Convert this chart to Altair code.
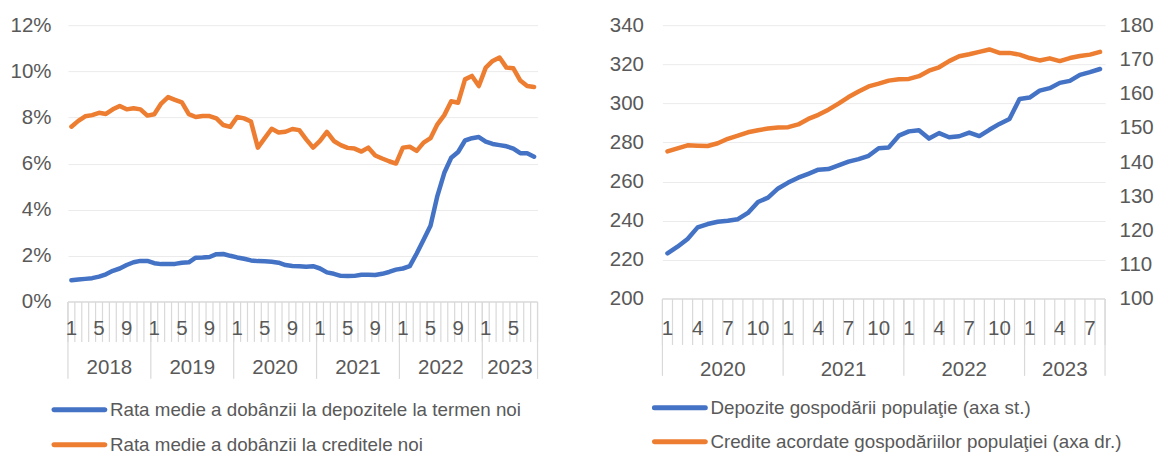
import altair as alt
import pandas as pd

# ---------------- data ----------------
left_start_year = 2018
left_months = [1, 5, 9]
left_names = ["Rata medie a dobânzii la depozitele la termen noi",
              "Rata medie a dobânzii la creditele noi"]
dep_rate = [0.94, 0.97, 1.0, 1.03, 1.1, 1.2, 1.35, 1.45, 1.6, 1.72, 1.78, 1.78,
            1.68, 1.64, 1.64, 1.65, 1.7, 1.72, 1.92, 1.93, 1.95, 2.07, 2.08, 2.0,
            1.93, 1.87, 1.8, 1.77, 1.76, 1.74, 1.7, 1.6, 1.56, 1.55, 1.53, 1.55,
            1.45, 1.28, 1.22, 1.13, 1.12, 1.13, 1.18, 1.18, 1.17, 1.22, 1.3, 1.4,
            1.45, 1.55, 2.1, 2.7, 3.3, 4.6, 5.6, 6.25, 6.5, 7.0, 7.1, 7.15,
            6.95, 6.85, 6.8, 6.75, 6.65, 6.45, 6.45, 6.3]
cred_rate = [7.6, 7.85, 8.05, 8.1, 8.2, 8.15, 8.35, 8.5, 8.35, 8.4, 8.35, 8.08,
             8.14, 8.6, 8.88, 8.76, 8.65, 8.14, 8.02, 8.06, 8.06, 7.96, 7.67, 7.59,
             8.02, 7.96, 7.82, 6.69, 7.1, 7.51, 7.35, 7.38, 7.5, 7.45, 7.05, 6.69,
             6.98, 7.37, 6.98, 6.8, 6.68, 6.65, 6.52, 6.69, 6.35, 6.22, 6.1, 6.0,
             6.69, 6.73, 6.55, 6.91, 7.1, 7.7, 8.1, 8.7, 8.64, 9.65, 9.8, 9.36,
             10.16, 10.45, 10.6, 10.16, 10.13, 9.6, 9.36, 9.32]
left_yticks = [0, 2, 4, 6, 8, 10, 12]

right_start_year = 2020
right_months = [1, 4, 7, 10]
right_names = ["Depozite gospodării populaţie (axa st.)",
               "Credite acordate gospodăriilor populaţiei (axa dr.)"]
deposits = [223.3, 226.7, 230.7, 236.6, 238.3, 239.5, 240.0, 240.8, 244.0, 249.6, 251.8, 256.5,
            259.5, 262.0, 264.0, 266.1, 266.4, 268.3, 270.2, 271.5, 273.2, 277.1, 277.5, 283.5,
            285.7, 286.3, 282.0, 284.8, 282.7, 283.2, 285.1, 283.3, 286.5, 289.5, 292.0, 302.3,
            303.0, 306.5, 307.8, 310.5, 311.5, 314.6, 316.0, 317.6]
credits = [143.1, 144.0, 144.9, 144.8, 144.7, 145.5, 146.8, 147.7, 148.7, 149.3, 149.8, 150.1,
           150.2, 151.0, 152.6, 153.8, 155.3, 157.1, 159.0, 160.6, 162.1, 162.9, 163.8, 164.2,
           164.3, 165.1, 166.7, 167.7, 169.5, 170.9, 171.5, 172.2, 172.9, 171.9, 171.9, 171.4,
           170.4, 169.7, 170.3, 169.5, 170.4, 171.0, 171.4, 172.2]
right_lticks = [200, 220, 240, 260, 280, 300, 320, 340]
right_rticks = [100, 110, 120, 130, 140, 150, 160, 170, 180]

BLUE = "#4472C4"
ORANGE = "#ED7D31"
GREY = "#595959"
LINEGREY = "#d9d9d9"
FONT = "Liberation Sans"
FS = 20.5
LFS = 18.8


def axis_layers(n, start_year, months, W, H, tick_len, year_len, m_y, y_y):
    xs = alt.Scale(domain=[0, n], nice=False, zero=False)
    xq = lambda f: alt.X(f, type="quantitative", scale=xs, axis=None)
    bounds = pd.DataFrame({"b": list(range(n + 1))})
    yb = sorted(set([b for b in range(0, n + 1, 12)] + [n]))
    ybounds = pd.DataFrame({"b": yb})
    mrows = []
    for k in range((n + 11) // 12):
        for m in months:
            p = 12 * k + (m - 1)
            if p < n:
                mrows.append({"pos": p + 0.5, "lab": str(m)})
    mdf = pd.DataFrame(mrows)
    yrows = []
    for k in range((n + 11) // 12):
        s = 12 * k
        e = min(12 * k + 12, n)
        yrows.append({"pos": (s + e) / 2, "lab": str(start_year + k)})
    ydf = pd.DataFrame(yrows)
    base_line = alt.Chart(pd.DataFrame({"a": [0], "b": [n]})).mark_rule(
        color=LINEGREY, strokeWidth=1.2).encode(x=xq("a"), x2="b", y=alt.value(H))
    ticks = alt.Chart(bounds).mark_rule(color=LINEGREY, strokeWidth=1.2).encode(
        x=xq("b"), y=alt.value(H), y2=alt.value(H + tick_len))
    yticks = alt.Chart(ybounds).mark_rule(color=LINEGREY, strokeWidth=1.2).encode(
        x=xq("b"), y=alt.value(H), y2=alt.value(H + year_len))
    mtext = alt.Chart(mdf).mark_text(font=FONT, fontSize=FS, color=GREY,
                                     align="center", baseline="middle").encode(
        x=xq("pos"), y=alt.value(H + m_y), text="lab:N")
    ytext = alt.Chart(ydf).mark_text(font=FONT, fontSize=FS, color=GREY,
                                     align="center", baseline="middle").encode(
        x=xq("pos"), y=alt.value(H + y_y), text="lab:N")
    return [base_line, ticks, yticks, mtext, ytext]


def legend_layers(names, colors, x1, x2, ys):
    out = []
    for name, col, yy in zip(names, colors, ys):
        d = pd.DataFrame({"lab": [name]})
        out.append(alt.Chart(d).mark_rule(strokeWidth=5, strokeCap="round", color=col).encode(
            x=alt.value(x1), x2=alt.value(x2), y=alt.value(yy)))
        out.append(alt.Chart(d).mark_text(font=FONT, fontSize=LFS, color=GREY,
                                          align="left", baseline="middle").encode(
            x=alt.value(x2 + 5), y=alt.value(yy), text="lab:N"))
    return out


# ---------------- left panel ----------------
W1, H1 = 470, 277
n1 = len(dep_rate)
ldf = pd.DataFrame({
    "pos": [i + 0.5 for i in range(n1)] * 2,
    "value": dep_rate + cred_rate,
    "series": [left_names[0]] * n1 + [left_names[1]] * n1,
})
left_lines = alt.Chart(ldf).mark_line(strokeWidth=4.5, strokeCap="round", strokeJoin="round").encode(
    x=alt.X("pos:Q", scale=alt.Scale(domain=[0, n1], nice=False, zero=False), axis=None),
    y=alt.Y("value:Q", scale=alt.Scale(domain=[0, 12], nice=False),
            axis=alt.Axis(values=left_yticks, labelExpr="datum.value + '%'", title=None,
                          labelPadding=17, minExtent=60, maxExtent=60)),
    color=alt.Color("series:N", scale=alt.Scale(domain=left_names, range=[BLUE, ORANGE]), legend=None),
)
left = alt.layer(
    left_lines,
    *axis_layers(n1, left_start_year, left_months, W1, H1, 40, 77, 27, 66),
    *legend_layers(left_names, [BLUE, ORANGE], -14, 37, [H1 + 108, H1 + 143]),
).properties(width=W1, height=H1)

# ---------------- right panel ----------------
W2, H2 = 443, 274
n2 = len(deposits)
pos2 = [i + 0.5 for i in range(n2)]
xs2 = alt.Scale(domain=[0, n2], nice=False, zero=False)
dep_df = pd.DataFrame({"pos": pos2, "value": deposits})
cre_df = pd.DataFrame({"pos": pos2, "value": credits})
r_dep = alt.Chart(dep_df).mark_line(strokeWidth=4.5, strokeCap="round", strokeJoin="round", color=BLUE).encode(
    x=alt.X("pos:Q", scale=xs2, axis=None),
    y=alt.Y("value:Q", scale=alt.Scale(domain=[200, 340], nice=False, zero=False),
            axis=alt.Axis(values=right_lticks, title=None, orient="left", labelPadding=19,
                          minExtent=58, maxExtent=58)),
)
r_cre = alt.Chart(cre_df).mark_line(strokeWidth=4.5, strokeCap="round", strokeJoin="round", color=ORANGE).encode(
    x=alt.X("pos:Q", scale=xs2, axis=None),
    y=alt.Y("value:Q", scale=alt.Scale(domain=[100, 180], nice=False, zero=False),
            axis=alt.Axis(values=right_rticks, title=None, orient="right", grid=False,
                          labelPadding=14)),
)
right = alt.layer(
    r_dep, r_cre,
    *axis_layers(n2, right_start_year, right_months, W2, H2, 46, 77, 30, 71),
    *legend_layers(right_names, [BLUE, ORANGE], -8, 43, [H2 + 109, H2 + 143]),
).resolve_scale(y="independent").properties(width=W2, height=H2)

chart = alt.hconcat(left, right, spacing=66).properties(
    padding={"left": 0, "top": 7, "right": 0, "bottom": 0}
).configure_view(stroke=None).configure_axis(
    labelFont=FONT, labelFontSize=FS, labelColor=GREY, domain=False, ticks=False,
    gridColor="#ebebeb", gridWidth=1,
)

chart.save("out.html", embed_options={"renderer": "svg", "actions": False})
